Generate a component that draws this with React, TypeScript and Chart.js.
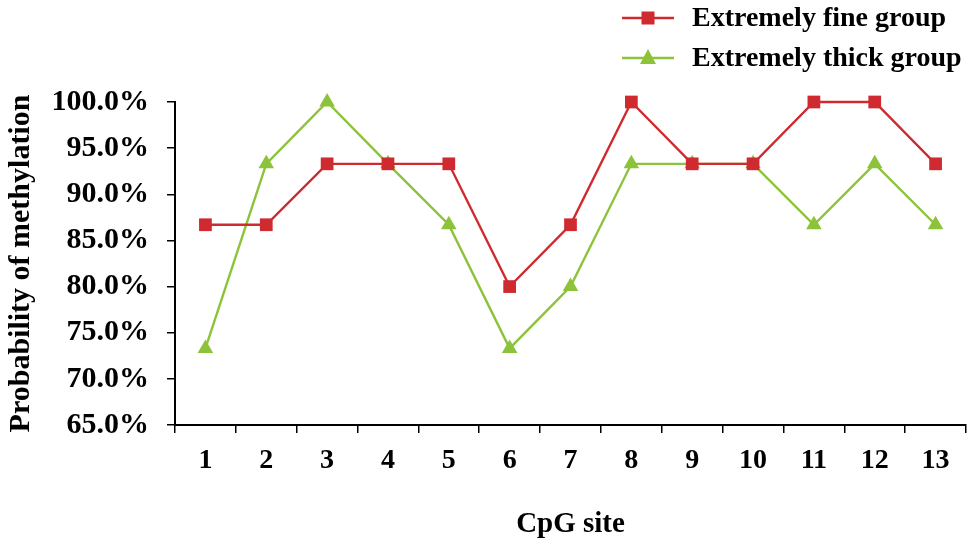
import { useEffect, useRef } from "react";
import { Chart, registerables } from "chart.js";

Chart.register(...registerables);

const cpgSites = ["1", "2", "3", "4", "5", "6", "7", "8", "9", "10", "11", "12", "13"];
const fineGroup = [86.7, 86.7, 93.3, 93.3, 93.3, 80.0, 86.7, 100.0, 93.3, 93.3, 100.0, 100.0, 93.3];
const thickGroup = [73.3, 93.3, 100.0, 93.3, 86.7, 73.3, 80.0, 93.3, 93.3, 93.3, 86.7, 93.3, 86.7];
const seriesNames = ["Extremely fine group", "Extremely thick group"];

const RED = "#CF2A2F";
const GREEN = "#8DC33A";
const FONT = "'Liberation Serif', 'Times New Roman', serif";

// legend drawn as a line with the marker on it, stacked at top right
const lineLegend = {
  id: "lineLegend",
  afterDraw(chart: any) {
    const ctx = chart.ctx;
    ctx.save();
    chart.data.datasets.forEach((ds: any, i: number) => {
      const y = 18 + i * 40;
      ctx.strokeStyle = ds.borderColor;
      ctx.lineWidth = 2.5;
      ctx.beginPath();
      ctx.moveTo(622, y);
      ctx.lineTo(674, y);
      ctx.stroke();
      ctx.fillStyle = ds.backgroundColor;
      ctx.beginPath();
      if (ds.pointStyle === "rect") {
        ctx.rect(641.5, y - 6.5, 13, 13);
      } else {
        ctx.moveTo(648, y - 9);
        ctx.lineTo(656, y + 6);
        ctx.lineTo(640, y + 6);
        ctx.closePath();
      }
      ctx.fill();
      ctx.fillStyle = "#000";
      ctx.font = `bold 28px ${FONT}`;
      ctx.textBaseline = "middle";
      ctx.textAlign = "left";
      ctx.fillText(ds.label, 692, y + 1);
    });
    ctx.restore();
  },
};

const App = () => {
  const chartRef: any = useRef(null);

  useEffect(() => {
    document.body.style.margin = "0";
    const ctx = chartRef.current.getContext("2d");

    const theChart = new Chart(ctx, {
      type: "line",
      data: {
        labels: cpgSites,
        datasets: [
          {
            label: seriesNames[0],
            data: fineGroup,
            borderColor: RED,
            backgroundColor: RED,
            borderWidth: 2.4,
            pointStyle: "rect",
            pointRadius: 9,
            pointBorderWidth: 0,
            tension: 0,
            clip: false,
          },
          {
            label: seriesNames[1],
            data: thickGroup,
            borderColor: GREEN,
            backgroundColor: GREEN,
            borderWidth: 2.4,
            pointStyle: "triangle",
            pointRadius: 9,
            pointBorderWidth: 0,
            tension: 0,
            clip: false,
          },
        ],
      },
      plugins: [lineLegend],
      options: {
        responsive: true,
        maintainAspectRatio: false,
        animation: false,
        layout: {
          padding: { top: 102, right: 3, left: 0, bottom: 0 },
        },
        plugins: {
          legend: { display: false },
          tooltip: { enabled: false },
        },
        scales: {
          x: {
            offset: true,
            grid: {
              offset: true,
              drawOnChartArea: false,
              drawTicks: true,
              tickLength: 8,
              color: "#000",
              lineWidth: 1.5,
            },
            border: { color: "#000", width: 2 },
            ticks: {
              color: "#000",
              padding: 11,
              font: { family: FONT, size: 28, weight: "bold" },
              maxRotation: 0,
            },
            title: {
              display: true,
              text: "CpG site",
              color: "#000",
              font: { family: FONT, size: 29, weight: "bold" },
              padding: { top: 0, bottom: 4 },
            },
            afterFit: (s: any) => {
              s.height = 121;
            },
          },
          y: {
            min: 65,
            max: 100,
            grid: {
              drawOnChartArea: false,
              drawTicks: true,
              tickLength: 8,
              color: "#000",
              lineWidth: 1.5,
            },
            border: { color: "#000", width: 2 },
            ticks: {
              stepSize: 5,
              color: "#000",
              padding: 18,
              font: { family: FONT, size: 30, weight: "bold" },
              callback: (v: any) => Number(v).toFixed(1) + "%",
            },
            title: {
              display: true,
              text: "Probability of methylation",
              color: "#000",
              font: { family: FONT, size: 30, weight: "bold" },
              padding: { top: 3, bottom: 0 },
            },
            afterFit: (s: any) => {
              s.width = 175;
            },
          },
        },
      },
    });

    return () => {
      theChart.destroy();
    };
  }, []);

  return (
    <div style={{ width: 975, height: 546, position: "relative", background: "#fff" }}>
      <canvas ref={chartRef} />
    </div>
  );
};

export default App;
